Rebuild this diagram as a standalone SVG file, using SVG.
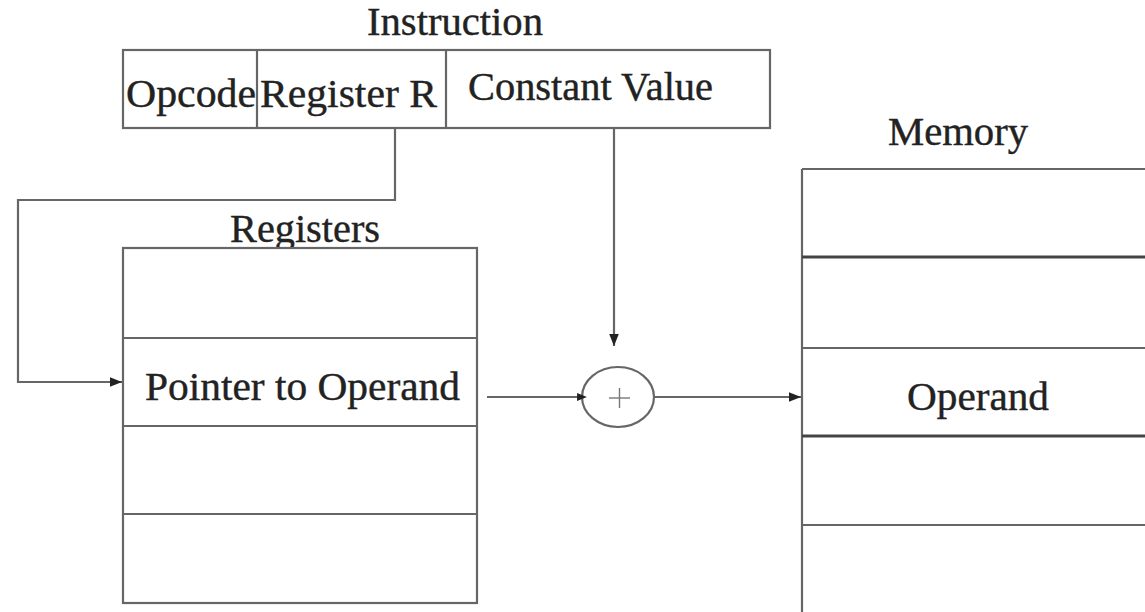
<svg xmlns="http://www.w3.org/2000/svg" width="1145" height="612" viewBox="0 0 1145 612">
  <style>
    .box { fill: #ffffff; stroke: #666666; stroke-width: 2.2; }
    .div { stroke: #666666; stroke-width: 2.2; fill: none; }
    .dark { stroke: #444444; stroke-width: 2.8; fill: none; }
    .lbl { font-family: "Liberation Serif", "Times New Roman", serif; font-size: 40px; fill: #222222; stroke: #222222; stroke-width: 0.4; }
    .wire { stroke: #666666; stroke-width: 2.2; fill: none; }
  </style>
  <defs>
    <marker id="arrow" viewBox="0 0 10 10" refX="10" refY="5" markerWidth="5.5" markerHeight="5.5" markerUnits="strokeWidth" orient="auto">
      <path d="M0,1 L10,5 L0,9 Z" fill="#222222"/>
    </marker>
    <marker id="dot" viewBox="0 0 10 10" refX="5" refY="5" markerWidth="4.5" markerHeight="4.5" markerUnits="strokeWidth" orient="auto">
      <path d="M0,1 L10,5 L0,9 Z" fill="#222222"/>
    </marker>
  </defs>
  <rect width="1145" height="612" fill="#ffffff"/>

  <!-- instruction word -->
  <g id="instruction">
    <text class="lbl" x="455" y="35" text-anchor="middle" textLength="176" lengthAdjust="spacingAndGlyphs">Instruction</text>
    <rect class="box" x="123" y="50" width="647" height="78"/>
    <line class="div" x1="257" y1="50" x2="257" y2="128"/>
    <line class="div" x1="446" y1="50" x2="446" y2="128"/>
    <text class="lbl" x="126" y="107" textLength="130" lengthAdjust="spacingAndGlyphs">Opcode</text>
    <text class="lbl" x="260" y="107" textLength="177" lengthAdjust="spacingAndGlyphs">Register R</text>
    <text class="lbl" x="468" y="100" textLength="245" lengthAdjust="spacingAndGlyphs">Constant Value</text>
  </g>

  <!-- register file -->
  <g id="registers">
    <text class="lbl" x="230" y="242" textLength="150" lengthAdjust="spacingAndGlyphs">Registers</text>
    <rect class="box" x="123" y="248" width="354" height="355"/>
    <line class="div" x1="123" y1="338" x2="477" y2="338"/>
    <line class="div" x1="123" y1="426" x2="477" y2="426"/>
    <line class="div" x1="123" y1="514" x2="477" y2="514"/>
    <text class="lbl" x="145" y="400" textLength="315" lengthAdjust="spacingAndGlyphs">Pointer to Operand</text>
  </g>

  <!-- adder -->
  <g id="adder">
    <ellipse cx="618" cy="397" rx="36" ry="30" fill="#ffffff" stroke="#666666" stroke-width="2.2"/>
    <line x1="609" y1="398" x2="630" y2="398" stroke="#777777" stroke-width="1.4"/>
    <line x1="619.5" y1="388" x2="619.5" y2="408" stroke="#777777" stroke-width="1.4"/>
  </g>

  <!-- main memory -->
  <g id="memory">
    <text class="lbl" x="888" y="145" textLength="140" lengthAdjust="spacingAndGlyphs">Memory</text>
    <line class="div" x1="802" y1="169" x2="1145" y2="169"/>
    <line class="div" x1="802" y1="169" x2="802" y2="612"/>
    <line class="dark" x1="802" y1="257" x2="1145" y2="257"/>
    <line class="div" x1="802" y1="348" x2="1145" y2="348"/>
    <line class="dark" x1="802" y1="436" x2="1145" y2="436"/>
    <line class="div" x1="802" y1="525" x2="1145" y2="525"/>
    <text class="lbl" x="907" y="410" textLength="142" lengthAdjust="spacingAndGlyphs">Operand</text>
  </g>

  <!-- data paths -->
  <g id="connectors">
    <polyline class="wire" points="395,128 395,200 18,200 18,382 122,382" marker-end="url(#arrow)"/>
    <line class="wire" x1="614" y1="128" x2="614" y2="346" marker-end="url(#arrow)"/>
    <line class="wire" x1="487" y1="397" x2="582" y2="397" marker-end="url(#dot)"/>
    <line class="wire" x1="654" y1="397" x2="801" y2="397" marker-end="url(#arrow)"/>
  </g>
</svg>
